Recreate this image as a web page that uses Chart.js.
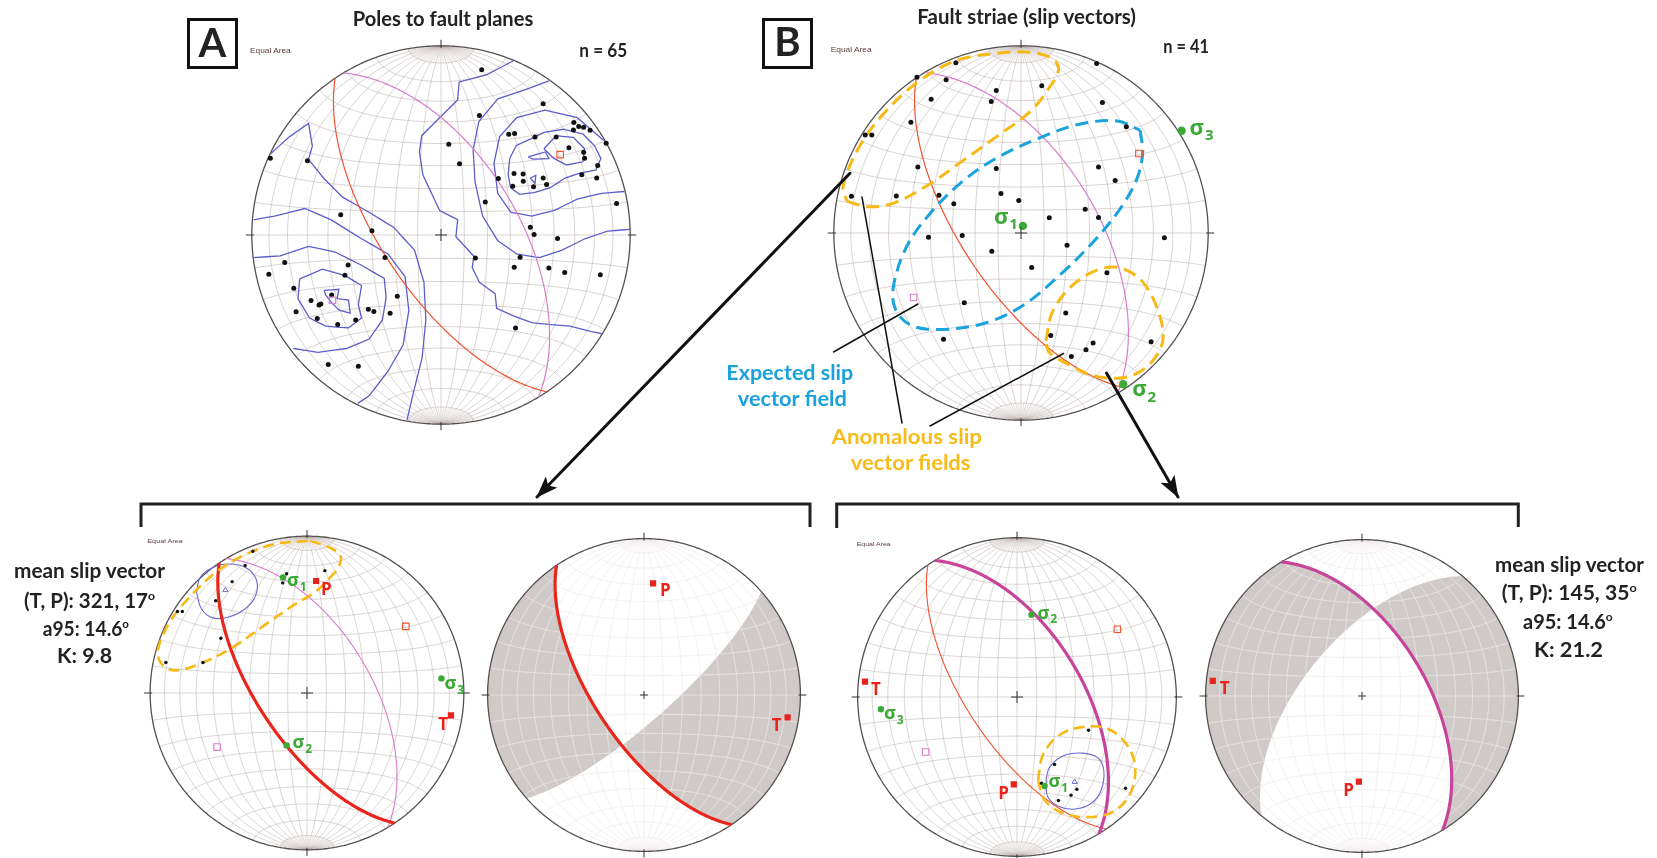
<!DOCTYPE html>
<html>
<head>
<meta charset="utf-8">
<title>Fault-slip stereonets</title>
<script src="https://cdn.jsdelivr.net/npm/chart.js@4.4.1/dist/chart.umd.min.js"></script>
<style>
  html, body { margin: 0; padding: 0; background: #fff; }
  #page { position: relative; width: 1657px; height: 858px; overflow: hidden; background: #fff; }
  canvas.net { position: absolute; }
  #overlay { position: absolute; left: 0; top: 0; }
  #overlay text { font-family: Lato, "Open Sans", "DejaVu Sans", sans-serif; font-weight: 700; fill: #222; }
  #overlay text.small { font-family: "Liberation Sans", Arial, sans-serif; font-weight: 400; fill: #5b3b3b; }
</style>
</head>
<body>
<div id="page">
  <canvas id="netA" class="net"></canvas>
  <canvas id="netB" class="net"></canvas>
  <canvas id="netC" class="net"></canvas>
  <canvas id="netD" class="net"></canvas>
  <canvas id="netE" class="net"></canvas>
  <canvas id="netF" class="net"></canvas>
  <svg id="overlay" width="1657" height="858" viewBox="0 0 1657 858">
    <defs>
      <marker id="head" viewBox="0 0 22 16" refX="21" refY="8" markerWidth="22" markerHeight="16" markerUnits="userSpaceOnUse" orient="auto">
        <path d="M0,0 L22,8 L0,16 L5,8 Z" fill="#111"/>
      </marker>
    </defs>
    <!-- panel letters -->
    <rect x="188.5" y="19.5" width="48" height="48" fill="none" stroke="#111" stroke-width="3"/>
    <text x="212.5" y="56.5" font-size="40" text-anchor="middle">A</text>
    <rect x="763.5" y="19.5" width="48" height="48" fill="none" stroke="#111" stroke-width="3"/>
    <text x="787.5" y="56" font-size="40" text-anchor="middle">B</text>
    <!-- titles -->
    <text x="352.7" y="26" font-size="20" textLength="180.6" lengthAdjust="spacingAndGlyphs">Poles to fault planes</text>
    <text x="917.3" y="24" font-size="20" textLength="218.7" lengthAdjust="spacingAndGlyphs">Fault striae (slip vectors)</text>
    <text x="579.3" y="57.3" font-size="18" textLength="48" lengthAdjust="spacingAndGlyphs">n = 65</text>
    <text x="1163.3" y="53.3" font-size="18" textLength="45.7" lengthAdjust="spacingAndGlyphs">n = 41</text>
    <text class="small" x="250" y="52.5" font-size="7" textLength="40.7" lengthAdjust="spacingAndGlyphs">Equal Area</text>
    <text class="small" x="830.7" y="51.5" font-size="7" textLength="41" lengthAdjust="spacingAndGlyphs">Equal Area</text>
    <text class="small" x="147.3" y="543" font-size="6" textLength="35.4" lengthAdjust="spacingAndGlyphs">Equal Area</text>
    <text class="small" x="856.7" y="545.5" font-size="6" textLength="34" lengthAdjust="spacingAndGlyphs">Equal Area</text>
    <!-- field labels -->
    <text x="726.3" y="380" font-size="21" textLength="127" lengthAdjust="spacingAndGlyphs" style="fill:#1ba1dc">Expected slip</text>
    <text x="737.8" y="406" font-size="21" textLength="109" lengthAdjust="spacingAndGlyphs" style="fill:#1ba1dc">vector field</text>
    <text x="831.5" y="444" font-size="21" textLength="150.5" lengthAdjust="spacingAndGlyphs" style="fill:#f7bb1a">Anomalous slip</text>
    <text x="850.7" y="470" font-size="21" textLength="119.8" lengthAdjust="spacingAndGlyphs" style="fill:#f7bb1a">vector fields</text>
    <!-- mean slip vector statistics -->
    <text x="14" y="578.3" font-size="20" textLength="151" lengthAdjust="spacingAndGlyphs">mean slip vector</text>
    <text x="24" y="608.3" font-size="20" textLength="131" lengthAdjust="spacingAndGlyphs">(T, P): 321, 17<tspan dy="-8" font-size="12">o</tspan></text>
    <text x="42.7" y="635.7" font-size="20" textLength="86.3" lengthAdjust="spacingAndGlyphs">a95: 14.6<tspan dy="-8" font-size="12">o</tspan></text>
    <text x="57" y="663" font-size="20" textLength="55" lengthAdjust="spacingAndGlyphs">K: 9.8</text>
    <text x="1495" y="571.7" font-size="20" textLength="149" lengthAdjust="spacingAndGlyphs">mean slip vector</text>
    <text x="1501.7" y="600" font-size="20" textLength="135" lengthAdjust="spacingAndGlyphs">(T, P): 145, 35<tspan dy="-8" font-size="12">o</tspan></text>
    <text x="1523" y="629.3" font-size="20" textLength="89.7" lengthAdjust="spacingAndGlyphs">a95: 14.6<tspan dy="-8" font-size="12">o</tspan></text>
    <text x="1534" y="656.7" font-size="20" textLength="69" lengthAdjust="spacingAndGlyphs">K: 21.2</text>
    <!-- leaders, arrows and brackets -->
    <g stroke="#111" fill="none" stroke-linecap="round">
      <line x1="833.5" y1="352" x2="918" y2="304" stroke-width="1.5"/>
      <line x1="862" y1="197" x2="902" y2="423" stroke-width="1.5"/>
      <line x1="930" y1="426" x2="1063.5" y2="353.5" stroke-width="1.5"/>
      <line x1="850" y1="173.3" x2="537" y2="497" stroke-width="3" marker-end="url(#head)"/>
      <line x1="1106.5" y1="373" x2="1178" y2="497" stroke-width="3" marker-end="url(#head)"/>
      <polyline points="141,527 141,504 810,504 810,527" stroke="#222" stroke-width="3" stroke-linecap="butt"/>
      <polyline points="836.7,528 836.7,504 1518.3,504 1518.3,527" stroke="#222" stroke-width="3" stroke-linecap="butt"/>
    </g>
  </svg>
</div>

<script>
// ---------------------------------------------------------------
// Values are lower-hemisphere equal-area net coordinates (unit = net radius,
// x to the east, y to the north) unless they are plane orientations
// (dip direction, dip in degrees).
// ---------------------------------------------------------------

// Mean fault planes (dip direction, dip)
const planeRed = [236, 65];
const planeMagenta = [59, 56.5];
// Auxiliary planes bounding the shaded quadrants
const auxPlaneD = [138.6, 77];
const auxPlaneF = [310, 60];

// Panel A: poles to fault planes (n = 65)
const polesAX = [0.215,0.540,0.203,0.702,0.728,0.754,0.788,0.358,0.389,0.497,0.609,0.873,0.041,0.676,0.754,0.759,0.098,0.828,-0.902,-0.706,0.386,0.434,0.303,0.540,0.435,0.489,0.558,0.379,0.744,0.823,0.234,0.928,-0.530,0.472,-0.365,0.492,0.616,-0.296,0.182,0.418,-0.826,-0.491,0.387,0.570,0.654,-0.910,-0.508,0.842,-0.778,-0.578,-0.231,-0.687,-0.645,-0.635,-0.766,-0.384,-0.355,-0.269,-0.654,-0.451,-0.546,0.394,-0.596,-0.437,0.700];
const polesAY = [0.873,0.694,0.632,0.594,0.573,0.570,0.554,0.532,0.537,0.518,0.518,0.485,0.480,0.461,0.437,0.406,0.377,0.368,0.406,0.392,0.325,0.322,0.298,0.301,0.284,0.255,0.267,0.258,0.318,0.301,0.174,0.167,0.107,0.041,0.022,0.002,-0.019,-0.119,-0.122,-0.117,-0.146,-0.158,-0.170,-0.174,-0.198,-0.208,-0.213,-0.210,-0.281,-0.317,-0.324,-0.346,-0.370,-0.365,-0.406,-0.392,-0.404,-0.413,-0.442,-0.449,-0.473,-0.491,-0.685,-0.694,0.555];

// Panel A: density contour lines of the poles
const contourA1 = [[0.544,0.456],[0.609,0.525],[0.699,0.516],[0.759,0.456],[0.750,0.387],[0.664,0.370],[0.595,0.406],[0.544,0.456]];
const contourA2 = [[0.461,0.413],[0.552,0.439],[0.570,0.404],[0.484,0.401],[0.461,0.413]];
const contourA3 = [[0.472,0.301],[0.501,0.315],[0.497,0.272],[0.472,0.301]];
const contourA4 = [[0.363,0.404],[0.398,0.473],[0.475,0.508],[0.544,0.542],[0.647,0.559],[0.750,0.534],[0.811,0.473],[0.845,0.404],[0.819,0.344],[0.733,0.327],[0.656,0.301],[0.578,0.250],[0.492,0.224],[0.415,0.215],[0.368,0.250],[0.355,0.318],[0.363,0.404]];
const contourA5 = [[0.860,0.500],[0.720,0.620],[0.550,0.660],[0.400,0.620],[0.310,0.520],[0.280,0.380],[0.300,0.220],[0.370,0.120],[0.480,0.100],[0.600,0.130],[0.720,0.190],[0.850,0.220],[0.970,0.230]];
const contourA6 = [[0.570,0.815],[0.450,0.770],[0.300,0.720],[0.200,0.600],[0.170,0.450],[0.180,0.280],[0.220,0.100],[0.300,-0.030],[0.400,-0.100],[0.520,-0.120],[0.640,-0.080],[0.760,-0.020],[0.880,0.020],[0.999,0.030]];
const contourA7 = [[0.382,0.921],[0.243,0.847],[0.096,0.809],[0.088,0.714],[0.010,0.637],[-0.102,0.525],[-0.114,0.439],[-0.096,0.318],[-0.007,0.129],[0.088,0.081],[0.079,-0.009],[0.174,-0.112],[0.165,-0.172],[0.203,-0.250],[0.286,-0.310],[0.294,-0.387],[0.389,-0.430],[0.484,-0.465],[0.682,-0.482],[0.785,-0.508],[0.850,-0.522]];
const contourA8 = [[-0.618,-0.293],[-0.540,-0.287],[-0.549,-0.336],[-0.489,-0.344],[-0.480,-0.413],[-0.540,-0.396],[-0.575,-0.361],[-0.609,-0.318],[-0.618,-0.293]];
const contourA9 = [[-0.747,-0.232],[-0.627,-0.181],[-0.506,-0.215],[-0.420,-0.267],[-0.437,-0.370],[-0.420,-0.439],[-0.489,-0.491],[-0.609,-0.482],[-0.695,-0.439],[-0.756,-0.336],[-0.747,-0.232]];
const contourA10 = [[-0.990,-0.120],[-0.850,-0.110],[-0.700,-0.060],[-0.560,-0.090],[-0.420,-0.160],[-0.300,-0.230],[-0.290,-0.330],[-0.310,-0.450],[-0.380,-0.550],[-0.500,-0.600],[-0.650,-0.620],[-0.780,-0.600]];
const contourA11 = [[-0.990,0.080],[-0.880,0.100],[-0.720,0.140],[-0.580,0.080],[-0.420,-0.020],[-0.280,-0.100],[-0.190,-0.220],[-0.170,-0.400],[-0.200,-0.580],[-0.280,-0.720],[-0.380,-0.850],[-0.440,-0.890]];
const contourA12 = [[-0.900,0.430],[-0.800,0.520],[-0.700,0.590],[-0.680,0.470],[-0.700,0.400],[-0.620,0.300],[-0.520,0.200],[-0.380,0.120],[-0.250,0.040],[-0.140,-0.080],[-0.090,-0.250],[-0.080,-0.450],[-0.100,-0.650],[-0.150,-0.850],[-0.180,-0.980]];

// Panel B: fault striae (n = 41)
const striaeBX = [-0.348,0.404,-0.556,-0.400,-0.132,0.111,-0.480,-0.159,0.435,-0.588,0.563,-0.832,-0.797,-0.551,-0.132,0.414,0.503,-0.906,-0.666,-0.438,-0.107,-0.012,-0.359,0.343,0.151,0.414,-0.494,-0.314,0.766,0.246,-0.156,0.057,0.459,-0.303,0.239,0.159,-0.414,0.385,0.695,0.347,0.269];
const striaeBY = [0.910,0.905,0.832,0.818,0.761,0.787,0.714,0.702,0.697,0.591,0.568,0.523,0.523,0.352,0.345,0.352,0.281,0.196,0.198,0.201,0.211,0.173,0.156,0.127,0.081,0.083,-0.023,-0.014,-0.026,-0.066,-0.097,-0.184,-0.213,-0.373,-0.428,-0.548,-0.568,-0.588,-0.581,-0.624,-0.660];
const sigmaB = { s1: [0.010, 0.038], s2: [0.546, -0.808], s3: [0.858, 0.546] };
const fieldYellowB1 = [[-0.93,0.17],[-0.82,0.14],[-0.68,0.16],[-0.49,0.26],[-0.32,0.38],[-0.13,0.515],[0.05,0.65],[0.15,0.775],[0.20,0.87],[0.17,0.93],[0.05,0.965],[-0.13,0.96],[-0.35,0.92],[-0.56,0.80],[-0.74,0.63],[-0.87,0.45],[-0.95,0.25]];
const fieldBlueB = [[0.636,0.549],[0.650,0.428],[0.619,0.289],[0.532,0.133],[0.393,-0.040],[0.220,-0.213],[0.012,-0.386],[-0.196,-0.482],[-0.438,-0.516],[-0.594,-0.490],[-0.672,-0.404],[-0.681,-0.282],[-0.612,-0.075],[-0.490,0.099],[-0.317,0.272],[-0.127,0.402],[0.116,0.515],[0.324,0.584],[0.515,0.598]];
const fieldYellowB2 = [[0.133,-0.577],[0.168,-0.421],[0.272,-0.282],[0.411,-0.196],[0.532,-0.187],[0.653,-0.265],[0.740,-0.438],[0.757,-0.577],[0.705,-0.681],[0.619,-0.750],[0.515,-0.776],[0.376,-0.759],[0.246,-0.698],[0.151,-0.638]];

// Panel C: NW anomalous striae subset
const striaeCX = [-0.345,-0.394,-0.130,-0.155,0.114,-0.477,-0.582,-0.826,-0.795,-0.549,-0.900,-0.663];
const striaeCY = [0.904,0.813,0.760,0.702,0.780,0.710,0.588,0.520,0.520,0.349,0.194,0.194];
const meanC = [-0.520, 0.656];
const sigmaC = { s1: [-0.153, 0.737], s2: [-0.130, -0.334], s3: [0.857, 0.093] };
const ptAxesCD = { P: [0.058, 0.714], T: [0.918, -0.143] };
const confC = [[-0.704,0.640],[-0.683,0.733],[-0.611,0.795],[-0.498,0.822],[-0.384,0.795],[-0.322,0.719],[-0.328,0.620],[-0.394,0.537],[-0.498,0.485],[-0.601,0.479],[-0.673,0.537]];
const fieldYellowC = [[0.02,0.97],[0.16,0.92],[0.215,0.87],[0.20,0.80],[0.16,0.75],[0.06,0.65],[-0.105,0.547],[-0.27,0.433],[-0.477,0.289],[-0.683,0.186],[-0.848,0.144],[-0.93,0.19],[-0.95,0.28],[-0.87,0.46],[-0.75,0.61],[-0.58,0.77],[-0.40,0.88],[-0.20,0.95]];

// Panel E: SE anomalous striae subset
const striaeEX = [0.449,0.236,0.154,0.376,0.339,0.260,0.681];
const striaeEY = [-0.209,-0.423,-0.541,-0.579,-0.616,-0.650,-0.573];
const meanE = [0.362, -0.533];
const sigmaE = { s1: [0.173, -0.559], s2: [0.091, 0.516], s3: [-0.854, -0.077] };
const ptAxesEF = { P: [-0.020, -0.548], T: [-0.954, 0.097] };
const confE = [[0.183,-0.514],[0.203,-0.443],[0.285,-0.372],[0.407,-0.352],[0.508,-0.382],[0.545,-0.463],[0.528,-0.585],[0.467,-0.667],[0.366,-0.703],[0.264,-0.687],[0.193,-0.626]];
const fieldYellowE = [[0.132,-0.524],[0.163,-0.362],[0.264,-0.240],[0.407,-0.189],[0.569,-0.199],[0.691,-0.301],[0.742,-0.443],[0.711,-0.606],[0.610,-0.717],[0.447,-0.754],[0.285,-0.728],[0.173,-0.646]];

// ---------------------------------------------------------------
// Equal-area projection helpers
// ---------------------------------------------------------------
const RAD = Math.PI / 180;
const dot = (a, b) => a[0]*b[0] + a[1]*b[1] + a[2]*b[2];
const cross = (a, b) => [a[1]*b[2]-a[2]*b[1], a[2]*b[0]-a[0]*b[2], a[0]*b[1]-a[1]*b[0]];
const mod = (a, m) => ((a % m) + m) % m;
function toVec(trend, plunge) {
  return [Math.sin(trend*RAD)*Math.cos(plunge*RAD), Math.cos(trend*RAD)*Math.cos(plunge*RAD), -Math.sin(plunge*RAD)];
}
function project(v) {
  let [e, n, u] = v;
  if (u > 0) { e = -e; n = -n; u = -u; }
  const s = Math.sqrt(1 - u);
  return { x: e / s, y: n / s };
}
function planeBasis(p) {
  const s = (p[0] - 90) * RAD, d = p[0] * RAD, q = p[1] * RAD;
  return { a: [Math.sin(s), Math.cos(s), 0], b: [Math.sin(d)*Math.cos(q), Math.cos(d)*Math.cos(q), -Math.sin(q)] };
}
function planeArc(p, t0 = 0, t1 = Math.PI, steps = 120) {
  const B = planeBasis(p), out = [];
  for (let i = 0; i <= steps; i++) {
    const t = t0 + (t1 - t0) * i / steps, c = Math.cos(t), s = Math.sin(t);
    out.push(project([B.a[0]*c + B.b[0]*s, B.a[1]*c + B.b[1]*s, B.a[2]*c + B.b[2]*s]));
  }
  return out;
}
const planePole = p => [project(toVec(p[0] + 180, 90 - p[1]))];
function parallelN(phi, steps = 90) {
  const out = [], c = Math.cos(phi*RAD), s = Math.sin(phi*RAD);
  for (let i = 0; i <= steps; i++) {
    const t = Math.PI * i / steps;
    out.push(project([c*Math.cos(t), s, -c*Math.sin(t)]));
  }
  return out;
}
function primitive(az0, az1, steps) {
  const out = [];
  for (let i = 0; i <= steps; i++) {
    const a = (az0 + (az1 - az0) * i / steps) * RAD;
    out.push({ x: Math.sin(a), y: Math.cos(a) });
  }
  return out;
}
// 10-degree Schmidt net, with 5-degree meridians inside the polar caps
function netGrid() {
  const main = [], caps = [];
  for (let d = 10; d <= 80; d += 10) { main.push(planeArc([90, d])); main.push(planeArc([270, d])); }
  main.push(planeArc([90, 90]));
  for (let phi = -80; phi <= 80; phi += 10) main.push(parallelN(phi));
  const cap = 10 * RAD;
  for (let d = 5; d < 90; d += 10) {
    for (const dd of [90, 270]) {
      caps.push(planeArc([dd, d], 0, cap, 8));
      caps.push(planeArc([dd, d], Math.PI - cap, Math.PI, 8));
    }
  }
  return { main, caps };
}
// Quadrant bounded by two planes: start at one end of plane p1, follow it to
// the intersection line, continue along p2 to the chosen end, close on the primitive.
function quadrant(p1, start1, p2, end2) {
  const B1 = planeBasis(p1), B2 = planeBasis(p2);
  const n1 = toVec(p1[0] + 180, 90 - p1[1]), n2 = toVec(p2[0] + 180, 90 - p2[1]);
  let L = cross(n1, n2);
  const len = Math.hypot(L[0], L[1], L[2]);
  L = L.map(v => v / len);
  if (L[2] > 0) L = L.map(v => -v);
  const t1 = Math.atan2(dot(L, B1.b), dot(L, B1.a));
  const t2 = Math.atan2(dot(L, B2.b), dot(L, B2.a));
  const pts = planeArc(p1, start1 ? Math.PI : 0, t1, 90).concat(planeArc(p2, t2, end2 ? Math.PI : 0, 90));
  const az1 = p1[0] - 90 + (start1 ? 180 : 0), az2 = p2[0] - 90 + (end2 ? 180 : 0);
  const others = [p1[0] - 90 + (start1 ? 0 : 180), p2[0] - 90 + (end2 ? 0 : 180)];
  let span = mod(az1 - az2, 360), dir = 1;
  if (others.some(o => mod(o - az2, 360) < span)) { dir = -1; span = 360 - span; }
  return pts.concat(primitive(az2, az2 + dir * span, 90));
}
const xy = (xs, ys) => xs.map((x, i) => ({ x, y: ys[i] }));
const pairs = arr => arr.map(p => ({ x: p[0], y: p[1] }));
const loop = arr => pairs(arr.concat([arr[0]]));

// ---------------------------------------------------------------
// Dataset builders (a tiny tension keeps Chart.js on its full path
// renderer, so steep net lines are drawn smoothly)
// ---------------------------------------------------------------
const line = (data, color, width, order, extra = {}) => Object.assign(
  { data, showLine: true, borderColor: color, borderWidth: width, pointRadius: 0, fill: false, tension: 0.0001, order }, extra);
const marks = (data, color, radius, order, extra = {}) => Object.assign(
  { data, showLine: false, pointRadius: radius, pointBackgroundColor: color, pointBorderColor: color,
    pointBorderWidth: 0, pointStyle: 'circle', order }, extra);
const openSquare = (data, color) => marks(data, 'rgba(255,255,255,0)', 4.6, 8,
  { pointStyle: 'rect', pointBorderColor: color, pointBorderWidth: 1.1 });
const solidSquare = (data) => marks(data, '#e8231c', 4.4, 6, { pointStyle: 'rect' });

const COL = {
  grid: 'rgba(176,162,158,0.62)', gridLight: 'rgba(240,234,234,0.95)', primitive: '#555050',
  red: '#f1522c', magenta: '#d97ccb', redThick: '#e8261c', magentaThick: '#c8449a',
  contour: '#5d5dcb', yellow: '#f6b915', blue: '#1aa3dc', conf: '#6b6bd2',
  green: '#3ba935', pt: '#e8231c', shade: '#cfcac8'
};

function gridSets(color, width) {
  const g = netGrid();
  return g.main.map(l => line(l, color, width, 90))
    .concat(g.caps.map(l => line(l, color, width * 0.7, 91)));
}

// draws centre cross, N/E/S/W ticks and the text labels that belong to marks
function netDecor(R, labels, tick) {
  return {
    id: 'netDecor',
    afterDatasetsDraw(chart) {
      const ctx = chart.ctx, sx = chart.scales.x, sy = chart.scales.y;
      const cx = sx.getPixelForValue(0), cy = sy.getPixelForValue(0);
      const rp = sx.getPixelForValue(1) - cx;
      ctx.save();
      ctx.strokeStyle = '#333'; ctx.lineWidth = 1;
      ctx.beginPath();
      ctx.moveTo(cx - tick, cy); ctx.lineTo(cx + tick, cy);
      ctx.moveTo(cx, cy - tick); ctx.lineTo(cx, cy + tick);
      for (const [dx, dy] of [[0,-1],[1,0],[0,1],[-1,0]]) {
        ctx.moveTo(cx + dx*(rp - 2), cy + dy*(rp - 2));
        ctx.lineTo(cx + dx*(rp + 6), cy + dy*(rp + 6));
      }
      ctx.stroke();
      for (const L of labels) {
        let px = sx.getPixelForValue(L.at[0]) + L.dx, py = sy.getPixelForValue(L.at[1]) + L.dy;
        ctx.fillStyle = L.color;
        ctx.font = `700 ${L.size}px "Open Sans", "DejaVu Sans", sans-serif`;
        const w1 = ctx.measureText(L.text).width;
        const subSize = Math.round(L.size * 0.68);
        let w2 = 0;
        if (L.sub) { ctx.font = `700 ${subSize}px "Open Sans", "DejaVu Sans", sans-serif`; w2 = ctx.measureText(L.sub).width + 1; }
        if (L.align === 'right') px -= (w1 + w2);
        ctx.font = `700 ${L.size}px "Open Sans", "DejaVu Sans", sans-serif`;
        ctx.textBaseline = 'alphabetic';
        ctx.fillText(L.text, px, py);
        if (L.sub) {
          ctx.font = `700 ${subSize}px "Open Sans", "DejaVu Sans", sans-serif`;
          ctx.fillText(L.sub, px + w1 + 1, py + L.size * 0.25);
        }
      }
      ctx.restore();
    }
  };
}

function buildNet(id, cx, cy, R, datasets, labels, tick = 6) {
  const pad = 36, H = Math.round(R + pad), lim = H / R;
  const cv = document.getElementById(id);
  cv.width = 2 * H; cv.height = 2 * H;
  Object.assign(cv.style, { left: (cx - H) + 'px', top: (cy - H) + 'px', width: 2*H + 'px', height: 2*H + 'px' });
  const axis = { type: 'linear', min: -lim, max: lim, display: false };
  return new Chart(cv, {
    type: 'scatter',
    data: { datasets },
    options: {
      responsive: false, animation: false, events: [],
      layout: { padding: 0 },
      plugins: { legend: { display: false }, tooltip: { enabled: false } },
      scales: { x: axis, y: { ...axis } }
    },
    plugins: [netDecor(R, labels, tick)]
  });
}

const circle = () => line(primitive(0, 360, 240), COL.primitive, 1.3, 70);
const greenLabel = (at, n, dx, dy, size, align = 'left') => ({ at, text: 'σ', sub: String(n), dx, dy, size, color: COL.green, align });
const ptLabel = (at, t, dx, dy, align = 'left') => ({ at, text: t, dx, dy, size: 17, color: COL.pt, align });
const contours = [contourA1, contourA2, contourA3, contourA4, contourA5, contourA6, contourA7, contourA8, contourA9, contourA10, contourA11, contourA12];

// ---------- Panel A ----------
buildNet('netA', 441, 235, 194, [
  ...gridSets(COL.grid, 0.8),
  circle(),
  line(planeArc(planeRed), COL.red, 1.2, 50),
  line(planeArc(planeMagenta), COL.magenta, 1.2, 50),
  ...contours.map(c => line(pairs(c), COL.contour, 1.3, 55)),
  marks(xy(polesAX, polesAY), '#111', 2.5, 10),
  openSquare(planePole(planeRed), COL.red),
  openSquare(planePole(planeMagenta), COL.magenta)
], []);

// ---------- Panel B ----------
buildNet('netB', 1021, 233, 192, [
  ...gridSets(COL.grid, 0.8),
  circle(),
  line(planeArc(planeRed), COL.red, 1.2, 50),
  line(planeArc(planeMagenta), COL.magenta, 1.2, 50),
  line(loop(fieldYellowB1), COL.yellow, 3, 40, { tension: 0.35, borderDash: [13, 7] }),
  line(loop(fieldBlueB), COL.blue, 3, 40, { tension: 0.35, borderDash: [13, 7] }),
  line(loop(fieldYellowB2), COL.yellow, 3, 40, { tension: 0.35, borderDash: [13, 7] }),
  marks(xy(striaeBX, striaeBY), '#111', 2.5, 10),
  openSquare(planePole(planeRed), COL.red),
  openSquare(planePole(planeMagenta), COL.magenta),
  marks(pairs([sigmaB.s1, sigmaB.s2, sigmaB.s3]), COL.green, 4.2, 5)
], [
  greenLabel(sigmaB.s1, 1, -5, -2, 22, 'right'),
  greenLabel(sigmaB.s3, 3, 8, 4, 22),
  greenLabel(sigmaB.s2, 2, 9, 12, 22)
]);

// ---------- Panel C ----------
buildNet('netC', 307, 693, 161.5, [
  ...gridSets(COL.grid, 0.75),
  circle(),
  line(planeArc(planeMagenta), COL.magenta, 1.1, 50),
  line(planeArc(planeRed), COL.redThick, 3.2, 45),
  line(loop(confC), COL.conf, 1.1, 48, { tension: 0.35 }),
  line(loop(fieldYellowC), COL.yellow, 2.6, 40, { tension: 0.35, borderDash: [11, 6] }),
  marks(xy(striaeCX, striaeCY), '#111', 1.7, 10),
  marks(pairs([meanC]), 'rgba(255,255,255,0)', 3, 9, { pointStyle: 'triangle', pointBorderColor: COL.conf, pointBorderWidth: 1 }),
  openSquare(planePole(planeRed), COL.red),
  openSquare(planePole(planeMagenta), COL.magenta),
  solidSquare(pairs([ptAxesCD.P, ptAxesCD.T])),
  marks(pairs([sigmaC.s1, sigmaC.s2, sigmaC.s3]), COL.green, 3.2, 5)
], [
  greenLabel(sigmaC.s1, 1, 4, 9, 18),
  greenLabel(sigmaC.s2, 2, 6, 3, 18),
  greenLabel(sigmaC.s3, 3, 3, 11, 18),
  ptLabel(ptAxesCD.P, 'P', 5, 14),
  ptLabel(ptAxesCD.T, 'T', -3, 15, 'right')
]);

// ---------- Panel D ----------
buildNet('netD', 644, 695, 160, [
  line(quadrant(planeRed, 1, auxPlaneD, 1), 'rgba(0,0,0,0)', 0, 100, { fill: 'shape', backgroundColor: COL.shade }),
  line(quadrant(planeRed, 0, auxPlaneD, 0), 'rgba(0,0,0,0)', 0, 100, { fill: 'shape', backgroundColor: COL.shade }),
  ...gridSets(COL.gridLight, 0.8),
  circle(),
  line(planeArc(planeRed), COL.redThick, 3.2, 45),
  solidSquare(pairs([ptAxesCD.P, ptAxesCD.T]))
], [
  ptLabel(ptAxesCD.P, 'P', 7, 13),
  ptLabel(ptAxesCD.T, 'T', -6, 14, 'right')
], 4);

// ---------- Panel E ----------
buildNet('netE', 1017, 697, 164, [
  ...gridSets(COL.grid, 0.75),
  circle(),
  line(planeArc(planeRed), COL.red, 1.1, 50),
  line(planeArc(planeMagenta), COL.magentaThick, 3.2, 45),
  line(loop(confE), COL.conf, 1.1, 48, { tension: 0.35 }),
  line(loop(fieldYellowE), COL.yellow, 2.6, 40, { tension: 0.35, borderDash: [11, 6] }),
  marks(xy(striaeEX, striaeEY), '#111', 1.7, 10),
  marks(pairs([meanE]), 'rgba(255,255,255,0)', 3, 9, { pointStyle: 'triangle', pointBorderColor: COL.conf, pointBorderWidth: 1 }),
  openSquare(planePole(planeRed), COL.red),
  openSquare(planePole(planeMagenta), COL.magenta),
  solidSquare(pairs([ptAxesEF.P, ptAxesEF.T])),
  marks(pairs([sigmaE.s1, sigmaE.s2, sigmaE.s3]), COL.green, 3.2, 5)
], [
  greenLabel(sigmaE.s1, 1, 4, 1, 18),
  greenLabel(sigmaE.s2, 2, 6, 4, 18),
  greenLabel(sigmaE.s3, 3, 3, 10, 18),
  ptLabel(ptAxesEF.P, 'P', -5, 15, 'right'),
  ptLabel(ptAxesEF.T, 'T', 6, 13)
]);

// ---------- Panel F ----------
buildNet('netF', 1362, 696, 160, [
  line(quadrant(planeMagenta, 0, auxPlaneF, 0), 'rgba(0,0,0,0)', 0, 100, { fill: 'shape', backgroundColor: COL.shade }),
  line(quadrant(planeMagenta, 1, auxPlaneF, 1), 'rgba(0,0,0,0)', 0, 100, { fill: 'shape', backgroundColor: COL.shade }),
  ...gridSets(COL.gridLight, 0.8),
  circle(),
  line(planeArc(planeMagenta), COL.magentaThick, 3.2, 45),
  solidSquare(pairs([ptAxesEF.P, ptAxesEF.T]))
], [
  ptLabel(ptAxesEF.P, 'P', -5, 14, 'right'),
  ptLabel(ptAxesEF.T, 'T', 7, 13)
], 4);
</script>
</body>
</html>
